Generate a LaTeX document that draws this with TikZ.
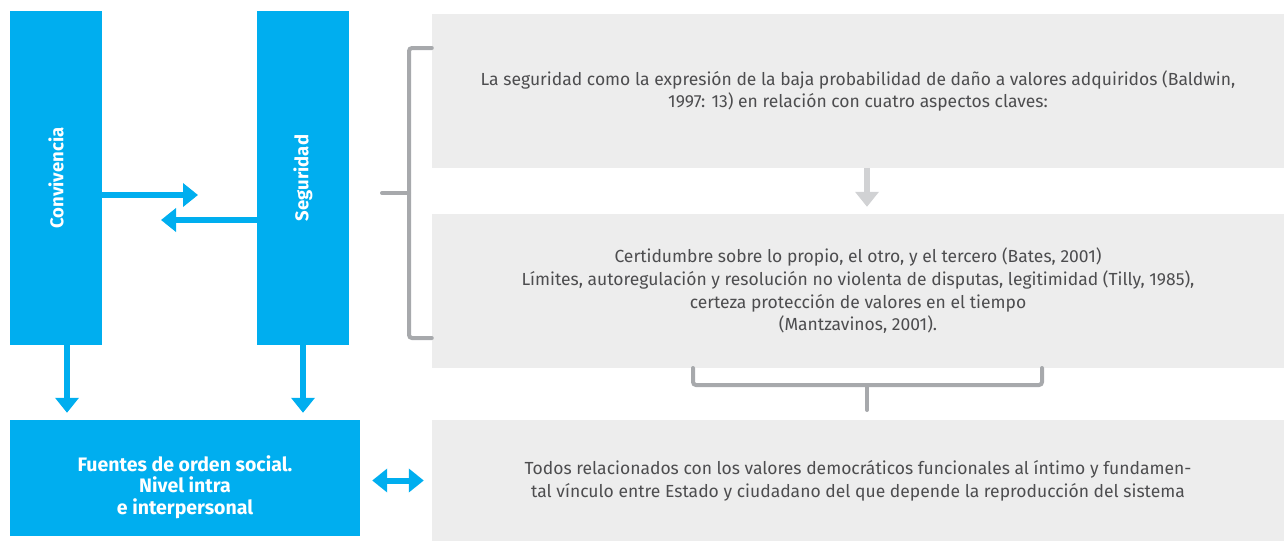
\documentclass[tikz,border=0pt]{standalone}
\usepackage{fontspec}
\setmainfont{Fira Sans}
\usetikzlibrary{arrows.meta}

\definecolor{cielo}{HTML}{00AEEF}
\definecolor{fondo}{HTML}{EDEDED}
\definecolor{llave}{HTML}{A7A9AC}
\definecolor{flechagris}{HTML}{D1D2D4}
\definecolor{texto}{HTML}{4D4D4F}

\begin{document}
\begin{tikzpicture}[
    x=1pt, y=-1pt,
    bluebox/.style={fill=cielo, text=white, font=\bfseries\fontsize{18.5}{21.5}\selectfont,
        inner sep=0pt, align=center},
    graybox/.style={fill=fondo, text=texto, font=\fontsize{17.5}{22.7}\selectfont,
        inner sep=0pt, align=center, minimum width=852pt},
    bluearrow/.style={draw=cielo, line width=6pt, -{Triangle[width=23pt,length=15pt]}},
    grayarrow/.style={draw=flechagris, line width=6pt, -{Triangle[width=23pt,length=15pt]}},
    brace/.style={draw=llave, line width=4pt, rounded corners=3pt, line cap=round},
]
\useasboundingbox (0,0) rectangle (1284,541);

% blue column
\node[bluebox, minimum width=92pt, minimum height=334pt] (conv) at (56,178) {\rotatebox{90}{Convivencia}};
\node[bluebox, minimum width=92pt, minimum height=334pt] (seg) at (303,178) {\rotatebox{90}{Seguridad}};
\node[bluebox, minimum width=350pt, minimum height=116pt, label={[text=white, align=center,
        font=\bfseries\fontsize{19.5}{21.5}\selectfont, yshift=-9pt]center:{Fuentes de orden social.\\ Nivel intra\\ e interpersonal}}]
    (fuentes) at (185,478) {};

% gray column
\node[graybox, minimum height=154pt] (aspectos) at (858,91)
    {La seguridad como la expresión de la baja probabilidad de daño a valores adquiridos (Baldwin,\\
     1997: 13) en relación con cuatro aspectos claves:};
\node[graybox, minimum height=154pt] (certeza) at (858,291)
    {Certidumbre sobre lo propio, el otro, y el tercero (Bates, 2001)\\
     Límites, autoregulación y resolución no violenta de disputas, legitimidad (Tilly, 1985),\\
     certeza protección de valores en el tiempo\\
     (Mantzavinos, 2001).};
\node[graybox, minimum height=121pt] (valores) at (858,480.5)
    {Todos relacionados con los valores democráticos funcionales al íntimo y fundamen-\\
     tal vínculo entre Estado y ciudadano del que depende la reproducción del sistema};

% arrows between the columns
\coordinate (a1) at (198,195);
\coordinate (a2) at (161,220);
\draw[bluearrow] (conv.east |- a1) -- (a1);
\draw[bluearrow] (seg.west |- a2) -- (a2);
\draw[bluearrow] ([xshift=11pt]conv.south) -- ([xshift=11pt,yshift=7pt]conv.south |- fuentes.north);
\draw[bluearrow] (seg.south) -- ([yshift=7pt]seg.south |- fuentes.north);
\draw[draw=cielo, line width=6pt, {Triangle[width=23pt,length=15pt]}-{Triangle[width=23pt,length=15pt]}]
    ([xshift=12pt]fuentes.east |- valores) -- ([xshift=-8pt]valores.west);
\draw[grayarrow] ([xshift=9pt]aspectos.south) -- ([xshift=9pt,yshift=7pt]aspectos.south |- certeza.north);

% brackets
\draw[brace] (aspectos.west |- 0,48) -- (409,48) -- (409,338) -- (certeza.west |- 0,338);
\draw[brace] (382,193) -- (409,193);
\draw[brace] (693,368) -- (693,385) -- (1042,385) -- (1042,368);
\draw[brace] (867,385) -- (867,410);
\end{tikzpicture}
\end{document}
